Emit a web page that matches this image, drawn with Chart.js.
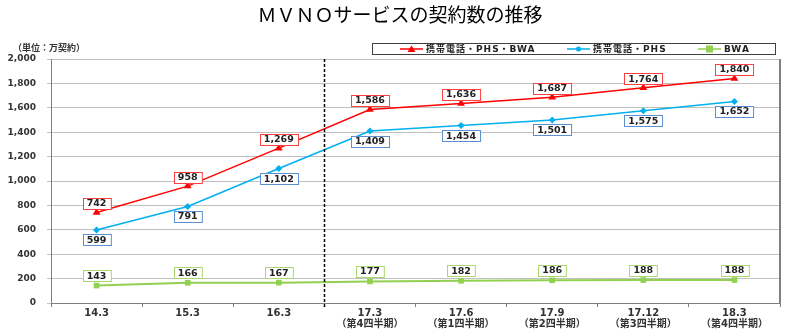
<!DOCTYPE html>
<html>
<head>
<meta charset="utf-8">
<script src="https://cdn.jsdelivr.net/npm/chart.js@4.4.0/dist/chart.umd.min.js"></script>
<style>
  body { margin: 0; background: #fff; }
  canvas { display: block; }
</style>
</head>
<body>
<canvas id="c" width="800" height="335"></canvas>
<script>
// chart data
const periods = ['14.3', '15.3', '16.3', '17.3', '17.6', '17.9', '17.12', '18.3'];
const quarters = ['', '', '', '（第4四半期）', '（第1四半期）', '（第2四半期）', '（第3四半期）', '（第4四半期）'];
const totalAll = [742, 958, 1269, 1586, 1636, 1687, 1764, 1840];   // 携帯電話・PHS・BWA
const mobilePhs = [599, 791, 1102, 1409, 1454, 1501, 1575, 1652]; // 携帯電話・PHS
const bwa = [143, 166, 167, 177, 182, 186, 188, 188];              // BWA
const seriesNames = ['携帯電話・PHS・BWA', '携帯電話・PHS', 'BWA'];
const yTicks = [0, 200, 400, 600, 800, 1000, 1200, 1400, 1600, 1800, 2000];

const FONT = '"Noto Sans CJK JP", "Noto Sans", sans-serif';
const NUMFONT = '"DejaVu Sans", "Noto Sans CJK JP", sans-serif';
const RED = '#ff0000', BLUE = '#00b0f0', GREEN = '#92d050';

const labels = periods.map((p, i) => quarters[i] ? [p, quarters[i]] : p);
const fmt = v => v.toLocaleString('en-US');

// title, legend, frame, dashed divider, value boxes
const decor = {
    id: 'decor',
    afterDraw(chart) {
        const ctx = chart.ctx;
        const area = chart.chartArea;
        const xs = chart.scales.x;

        ctx.save();
        // title
        ctx.fillStyle = '#000';
        ctx.font = '19px ' + FONT;
        ctx.textAlign = 'center';
        ctx.textBaseline = 'middle';
        ctx.fillText('ＭＶＮＯサービスの契約数の推移', 400, 15);

        // unit
        ctx.font = 'bold 9px ' + FONT;
        ctx.textAlign = 'left';
        ctx.fillStyle = '#333';
        ctx.fillText('（単位：万契約）', 13, 48);

        // frame right side
        ctx.strokeStyle = '#808080';
        ctx.lineWidth = 2;
        ctx.beginPath();
        ctx.moveTo(area.right, area.top);
        ctx.lineTo(area.right, area.bottom);
        ctx.stroke();

        // dashed divider between 16.3 and 17.3
        const dx = Math.round((xs.getPixelForValue(2) + xs.getPixelForValue(3)) / 2) + 0.5;
        ctx.strokeStyle = '#000';
        ctx.lineWidth = 1.5;
        ctx.setLineDash([3, 2]);
        ctx.beginPath();
        ctx.moveTo(dx, area.top);
        ctx.lineTo(dx, area.bottom + 4);
        ctx.stroke();
        ctx.setLineDash([]);

        // legend box
        ctx.strokeStyle = '#404040';
        ctx.lineWidth = 1;
        ctx.strokeRect(372.5, 43.5, 403, 11);
        const items = [
            { x: 400, color: RED, style: 'triangle' },
            { x: 567, color: BLUE, style: 'circle' },
            { x: 698, color: GREEN, style: 'rect' }
        ];
        ctx.font = 'bold 9px ' + NUMFONT;
        ctx.letterSpacing = '1px';
        items.forEach((it, i) => {
            ctx.strokeStyle = it.color;
            ctx.lineWidth = 1.5;
            ctx.beginPath();
            ctx.moveTo(it.x, 49);
            ctx.lineTo(it.x + 23, 49);
            ctx.stroke();
            ctx.fillStyle = it.color;
            const mx = it.x + 11.5;
            if (it.style === 'triangle') {
                ctx.beginPath();
                ctx.moveTo(mx, 45.5); ctx.lineTo(mx + 4, 52); ctx.lineTo(mx - 4, 52);
                ctx.closePath(); ctx.fill();
            } else if (it.style === 'circle') {
                ctx.beginPath(); ctx.arc(mx, 49, 2.5, 0, Math.PI * 2); ctx.fill();
            } else {
                ctx.fillRect(mx - 3.5, 45.5, 7, 7);
            }
            ctx.fillStyle = '#222';
            ctx.textAlign = 'left';
            ctx.fillText(seriesNames[i], it.x + 26, 49.5);
        });
        ctx.letterSpacing = '0px';

        // value boxes
        const offsets = [-9, 10, -10];
        const borders = ['#ff4040', '#5b8fd0', '#a9d96e'];
        ctx.font = 'bold 9.5px ' + NUMFONT;
        ctx.textAlign = 'center';
        ctx.textBaseline = 'middle';
        chart.data.datasets.forEach((ds, di) => {
            const meta = chart.getDatasetMeta(di);
            meta.data.forEach((pt, i) => {
                const txt = fmt(ds.data[i]);
                const w = ctx.measureText(txt).width + 8;
                const h = 11;
                const cx = pt.x, cy = pt.y + offsets[di];
                const bx = Math.round(cx - w / 2) + 0.5, by = Math.round(cy - h / 2) + 0.5;
                ctx.fillStyle = '#fff';
                ctx.fillRect(bx, by, w, h);
                ctx.strokeStyle = borders[di];
                ctx.lineWidth = 1;
                ctx.strokeRect(bx, by, w, h);
                ctx.fillStyle = '#222';
                ctx.fillText(txt, cx, cy + 0.5);
            });
        });
        ctx.restore();
    }
};

new Chart(document.getElementById('c'), {
    type: 'line',
    data: {
        labels: labels,
        datasets: [
            { label: seriesNames[0], data: totalAll, borderColor: RED, backgroundColor: RED,
              borderWidth: 1.5, pointStyle: 'triangle', pointRadius: 4.5, pointBorderWidth: 0 },
            { label: seriesNames[1], data: mobilePhs, borderColor: BLUE, backgroundColor: BLUE,
              borderWidth: 1.5, pointStyle: 'rectRot', pointRadius: 3.5, pointBorderWidth: 0 },
            { label: seriesNames[2], data: bwa, borderColor: GREEN, backgroundColor: GREEN,
              borderWidth: 2, pointStyle: 'rect', pointRadius: 4, pointBorderWidth: 0 }
        ]
    },
    options: {
        responsive: false,
        animation: false,
        devicePixelRatio: 1,
        layout: { padding: { top: 59, right: 20, left: 0, bottom: 0 } },
        plugins: {
            legend: { display: false },
            title: { display: false },
            tooltip: { enabled: false }
        },
        scales: {
            x: {
                offset: true,
                grid: { offset: true, drawOnChartArea: false, drawTicks: true, tickLength: 4, color: '#808080' },
                border: { color: '#808080', width: 1 },
                ticks: { padding: 1, color: '#333', font: { family: NUMFONT, size: 10, weight: 'bold', lineHeight: 1.1 }, maxRotation: 0, autoSkip: false },
                afterFit(s) { s.height = 32; }
            },
            y: {
                min: 0, max: 2000,
                afterBuildTicks(s) { s.ticks = yTicks.map(v => ({ value: v })); },
                grid: { color: '#c0c0c0', tickLength: 4 },
                border: { color: '#808080', width: 1 },
                ticks: { padding: 11, color: '#333', font: { family: NUMFONT, size: 9, weight: 'bold' }, callback: v => fmt(v) },
                afterFit(s) { s.width = 51; }
            }
        }
    },
    plugins: [decor]
});
</script>
</body>
</html>
